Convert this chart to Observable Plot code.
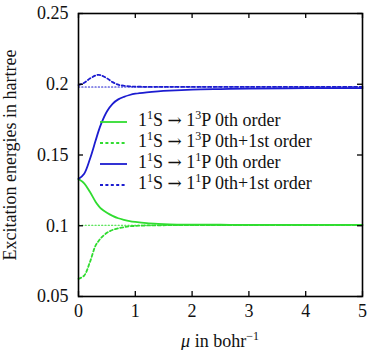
<!DOCTYPE html>
<html>
<head>
<meta charset="utf-8">
<script src="https://cdn.jsdelivr.net/npm/d3@7"></script>
<script src="https://cdn.jsdelivr.net/npm/@observablehq/plot@0.6"></script>
<style>
  body { margin: 0; background: #fff; }
  #chart { position: relative; width: 369px; height: 350px; color: #111; font-family: "Liberation Serif"; }
  #chart svg { display: block; }
  #chart svg text { font-family: "Liberation Serif"; }
  .legend { position: absolute; left: 100px; top: 111px; font-size: 18px; line-height: 21px; font-family: "Liberation Serif"; }
  .legend .row { display: flex; align-items: center; height: 21px; white-space: nowrap; }
  .legend svg { width: 27px; height: 6px; margin-right: 11px; flex: none; }
  sup { font-size: 12px; vertical-align: 0; position: relative; top: -7px; }
  .legend .arrow { font-family: "DejaVu Serif"; font-size: 17px; }
  .xlabel { position: absolute; left: 78px; width: 284px; top: 332px; line-height: 18px; font-size: 18px; text-align: center; font-family: "Liberation Serif"; }
</style>
</head>
<body>
<div id="chart"></div>
<script>
// Range-separation parameter mu (bohr^-1)
const mu = [0, 0.1, 0.2, 0.3, 0.35, 0.4, 0.5, 0.6, 0.7, 0.8, 0.9, 1.0, 1.2, 1.4, 1.6, 2.0, 2.5, 3, 4, 5];

// 1^1S -> 1^3P excitation energies (hartree)
const tripletZeroth = [0.1330, 0.1300, 0.1240, 0.1170, 0.1142, 0.1120, 0.1092, 0.1070, 0.1053, 0.1042, 0.1033, 0.1027, 0.1018, 0.1013, 0.1010, 0.1008, 0.1007, 0.1006, 0.1006, 0.1006];
const tripletFirst  = [0.0625, 0.0648, 0.0742, 0.0860, 0.0890, 0.0915, 0.0950, 0.0970, 0.0982, 0.0990, 0.0996, 0.0999, 0.1002, 0.1003, 0.1004, 0.1004, 0.1004, 0.1004, 0.1004, 0.1004];
const tripletExact  = 0.1004;

// 1^1S -> 1^1P excitation energies (hartree)
const singletZeroth = [0.1330, 0.1368, 0.1470, 0.1600, 0.1665, 0.1722, 0.1808, 0.1862, 0.1893, 0.1911, 0.1924, 0.1933, 0.1943, 0.1950, 0.1955, 0.1962, 0.1966, 0.1969, 0.1972, 0.1973];
const singletFirst  = [0.1994, 0.2010, 0.2040, 0.2062, 0.2066, 0.2063, 0.2042, 0.2015, 0.1997, 0.1989, 0.1985, 0.1983, 0.1982, 0.1982, 0.1982, 0.1982, 0.1982, 0.1982, 0.1982, 0.1982];
const singletExact  = 0.1981;

const xTicks = [0, 1, 2, 3, 4, 5];
const yTicks = [0.05, 0.1, 0.15, 0.2, 0.25];
const yTickLabels = ["0.05", "0.1", "0.15", "0.2", "0.25"];

const green = "#30dc30";
const blue = "#1c1cd0";
const font = "Liberation Serif";
const dashed = "3,2.4";
const dotted = "1.2,2.1";

// legend text pieces: [n, spin, "S", n, spin, "P ..."]
const series = [
  { name: "t0", values: tripletZeroth, color: green, dash: null,   width: 1.8, label: ["1", "1", "S", "1", "3", "P 0th order"] },
  { name: "t1", values: tripletFirst,  color: green, dash: dashed, width: 1.8, label: ["1", "1", "S", "1", "3", "P 0th+1st order"] },
  { name: "s0", values: singletZeroth, color: blue,  dash: null,   width: 1.8, label: ["1", "1", "S", "1", "1", "P 0th order"] },
  { name: "s1", values: singletFirst,  color: blue,  dash: dashed, width: 1.8, label: ["1", "1", "S", "1", "1", "P 0th+1st order"] }
];

const exactLines = [
  { name: "tx", value: tripletExact, color: green },
  { name: "sx", value: singletExact, color: blue }
];

const W = 369, H = 350;
const margin = { top: 13, right: 7, bottom: 54, left: 78 };
const innerW = W - margin.left - margin.right;
const innerH = H - margin.top - margin.bottom;
const tick = 5;

const marks = [];

// exact reference energies as thin dotted lines
for (const ex of exactLines) {
  marks.push(Plot.line([[0, ex.value], [5, ex.value]], {
    x: d => d[0], y: d => d[1], stroke: ex.color, strokeWidth: 1.1, strokeDasharray: dotted
  }));
}
for (const s of series) {
  const rows = mu.map((m, i) => ({ mu: m, e: s.values[i] }));
  marks.push(Plot.line(rows, {
    x: "mu", y: "e", stroke: s.color, strokeWidth: s.width,
    strokeDasharray: s.dash, curve: "catmull-rom"
  }));
}

// inward ticks on all four sides
marks.push(Plot.ruleX(xTicks, { stroke: "#000", strokeWidth: 1.3, insetTop: innerH - tick }));
marks.push(Plot.ruleX(xTicks, { stroke: "#000", strokeWidth: 1.3, insetBottom: innerH - tick }));
marks.push(Plot.ruleY(yTicks, { stroke: "#000", strokeWidth: 1.3, insetRight: innerW - tick }));
marks.push(Plot.ruleY(yTicks, { stroke: "#000", strokeWidth: 1.3, insetLeft: innerW - tick }));
marks.push(Plot.frame({ stroke: "#000", strokeWidth: 1.6 }));

marks.push(Plot.axisX(xTicks, { tickSize: 0, tickPadding: 8, fontSize: 18, fontFamily: font, label: null }));
marks.push(Plot.axisY(yTicks, { tickSize: 0, tickPadding: 10, fontSize: 18, fontFamily: font, label: null,
  tickFormat: (d, i) => yTickLabels[i] }));

marks.push(Plot.text(["Excitation energies in hartree"], {
  text: d => d, frameAnchor: "left", dx: -68, rotate: -90, fontSize: 18, fontFamily: font,
  textAnchor: "middle", lineAnchor: "middle"
}));

const plot = Plot.plot({
  width: W, height: H,
  marginTop: margin.top, marginRight: margin.right, marginBottom: margin.bottom, marginLeft: margin.left,
  style: { background: "#fff", color: "#111", fontFamily: font },
  x: { domain: [0, 5] },
  y: { domain: [0.05, 0.25] },
  marks
});

const chart = document.getElementById("chart");
chart.appendChild(plot);

// x-axis title with italic mu and a raised exponent
const xlabel = document.createElement("div");
xlabel.className = "xlabel";
const muSym = document.createElement("i");
muSym.textContent = "μ";
const expo = document.createElement("sup");
expo.textContent = "−1";
xlabel.append(muSym, " in bohr", expo);
chart.appendChild(xlabel);

// legend inside the plotting area
const legend = document.createElement("div");
legend.className = "legend";
for (const s of series) {
  const row = document.createElement("div");
  row.className = "row";
  const sw = d3.create("svg").attr("viewBox", "0 0 27 6");
  sw.append("line").attr("x1", 0).attr("x2", 27).attr("y1", 3).attr("y2", 3)
    .attr("stroke", s.color).attr("stroke-width", s.width)
    .attr("stroke-dasharray", s.dash);
  row.appendChild(sw.node());
  const t = document.createElement("span");
  const [n1, g1, l1, n2, g2, rest] = s.label;
  const sup = v => { const e = document.createElement("sup"); e.textContent = v; return e; };
  const arrow = document.createElement("span");
  arrow.className = "arrow";
  arrow.textContent = "→";
  t.append(n1, sup(g1), l1 + " ", arrow, " " + n2, sup(g2), rest);
  row.appendChild(t);
  legend.appendChild(row);
}
chart.appendChild(legend);
</script>
</body>
</html>
